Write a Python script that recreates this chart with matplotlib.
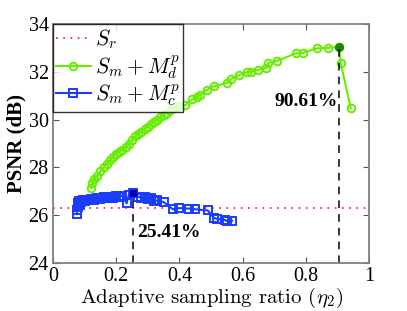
import matplotlib
matplotlib.use("Agg")
import matplotlib.pyplot as plt
import numpy as np

SR_VALUE = 26.3

green_x = [0.12, 0.125, 0.13, 0.14, 0.15, 0.16, 0.17, 0.18, 0.19, 0.2, 0.21, 0.22,
           0.23, 0.24, 0.25, 0.26, 0.27, 0.28, 0.29, 0.30, 0.31, 0.32, 0.33, 0.34,
           0.35, 0.36, 0.37, 0.38, 0.39, 0.40, 0.418, 0.44, 0.455, 0.465, 0.487, 0.509,
           0.55, 0.563, 0.59, 0.614, 0.627, 0.649, 0.674, 0.68, 0.71, 0.768, 0.791,
           0.834, 0.869, 0.9061, 0.91, 0.942]
green_y = [27.15, 27.35, 27.5, 27.65, 27.85, 28.0, 28.15, 28.3, 28.45, 28.55, 28.65, 28.75,
           28.85, 29.0, 29.15, 29.3, 29.4, 29.5, 29.6, 29.7, 29.8, 29.9, 30.0, 30.1,
           30.2, 30.28, 30.4, 30.5, 30.52, 30.55, 30.6, 30.85, 30.96, 31.03, 31.24, 31.4,
           31.53, 31.70, 31.87, 31.99, 32.0, 32.08, 32.16, 32.37, 32.46, 32.77, 32.79,
           32.98, 33.0, 33.05, 32.37, 30.47]

blue_x = [0.075, 0.076, 0.078, 0.08, 0.082, 0.085, 0.09, 0.095, 0.1, 0.11, 0.12, 0.13,
          0.14, 0.15, 0.16, 0.17, 0.18, 0.19, 0.2, 0.21, 0.22, 0.233, 0.24, 0.2541,
          0.27, 0.28, 0.29, 0.3, 0.31, 0.32, 0.33, 0.35, 0.38, 0.4, 0.43, 0.45, 0.49,
          0.51, 0.52, 0.545, 0.55, 0.566]
blue_y = [26.05, 26.2, 26.35, 26.5, 26.6, 26.45, 26.55, 26.65, 26.6, 26.65, 26.7, 26.65,
          26.72, 26.7, 26.75, 26.72, 26.78, 26.72, 26.8, 26.78, 26.82, 26.5, 26.85, 26.95,
          26.78, 26.72, 26.75, 26.68, 26.72, 26.6, 26.62, 26.55, 26.25, 26.3, 26.28, 26.25, 26.2,
          25.88, 25.85, 25.8, 25.75, 25.77]

green_peak = (0.9061, 33.05)
blue_peak = (0.2541, 26.95)

plt.rcParams["mathtext.fontset"] = "cm"
plt.rcParams["font.family"] = "Liberation Serif"

fig = plt.figure(figsize=(4.07, 3.11), dpi=100)
ax = fig.add_axes([0.130, 0.154, 0.777, 0.769])

green = "#66ee00"
blue = "#1a3cff"

ax.axhline(SR_VALUE, color="#ff3030", ls=(0, (1, 3)), lw=1.3, label=r"$S_r$")
ax.plot(green_x, green_y, "-o", color=green, mfc="none", mec=green, ms=5.5, mew=1.4, lw=1.5,
        label=r"$S_m+M_d^p$")
ax.plot(blue_x, blue_y, "-s", color=blue, mfc="none", mec=blue, ms=5.5, mew=1.4, lw=1.5,
        label=r"$S_m+M_c^p$")
ax.plot(*green_peak, "o", color="#1a8a00", ms=5.5)
ax.plot(*blue_peak, "s", color="#0000bb", ms=5)

ax.plot([green_peak[0]] * 2, [24, green_peak[1]], color="black", ls=(0, (5, 4)), lw=1.1)
ax.plot([blue_peak[0]] * 2, [24, blue_peak[1]], color="black", ls=(0, (5, 4)), lw=1.1)

ax.text(0.902, 30.75, "90.61%", ha="right", va="center", fontsize=14, fontweight="bold")
ax.text(0.265, 25.3, "25.41%", ha="left", va="center", fontsize=14, fontweight="bold")

ax.set_xlim(0, 1)
ax.set_ylim(24, 34)
ax.set_xticks(np.arange(0, 1.01, 0.2))
ax.set_xticklabels(["0", "0.2", "0.4", "0.6", "0.8", "1"])
ax.set_yticks(np.arange(24, 34.1, 2))
ax.tick_params(direction="in", labelsize=14.5, color="#555555", length=4,
               top=True, right=True, pad=3)
for s in ax.spines.values():
    s.set_color("#808080")
    s.set_linewidth(1.3)

ax.set_xlabel(r"Adaptive sampling ratio ($\eta_2$)", fontsize=15, family="cmr10")
ax.xaxis.set_label_coords(0.5, -0.095)
ax.set_ylabel("PSNR (dB)", fontsize=15, fontweight="bold")
ax.yaxis.set_label_coords(-0.085, 0.5)

leg = ax.legend(loc="upper left", fontsize=15.5, frameon=True, fancybox=False,
                borderaxespad=0, handlelength=1.6, handletextpad=0.2,
                borderpad=0.15, labelspacing=0.1)
leg.get_frame().set_edgecolor("black")
leg.get_frame().set_linewidth(1)

fig.savefig("out.png", dpi=100)
